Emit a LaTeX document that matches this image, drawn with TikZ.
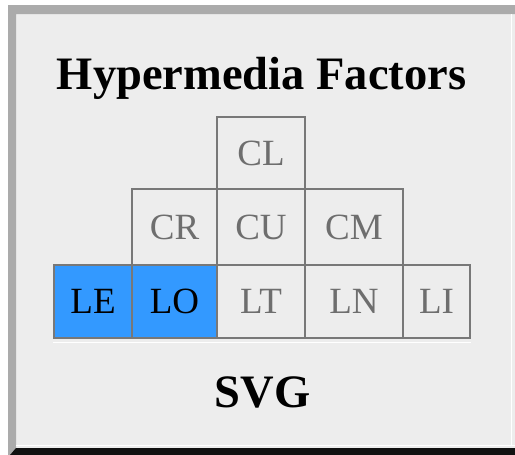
\documentclass[tikz,border=0pt]{standalone}
\usepackage{fontspec}
\setmainfont{Liberation Serif}
\definecolor{panelF}{HTML}{EDEDED}
\definecolor{panelEdge}{HTML}{ABABAB}
\definecolor{panelDark}{HTML}{111111}
\definecolor{cellS}{HTML}{787878}
\definecolor{cellT}{HTML}{6E6E6E}
\definecolor{hiF}{HTML}{3399FF}
\tikzset{
  cell/.style={draw=cellS, line width=2pt, fill=panelF, text=cellT,
    inner sep=0pt, outer sep=0pt, font=\fontsize{37}{40}\selectfont},
  hicell/.style={cell, fill=hiF, text=black},
  toprow/.style={minimum height=72pt},
  midrow/.style={minimum height=76pt},
  botrow/.style={minimum height=73pt},
  heading/.style={font=\fontsize{46.5}{50}\selectfont\bfseries, anchor=base,
    inner sep=0pt},
}

\begin{document}
\begin{tikzpicture}[x=1pt, y=-1pt]
  \useasboundingbox (0,0) rectangle (515,455);

  % ---- Panel ----------------------------------------------------------------
  \fill[white] (0,0) rectangle (515,455);
  \fill[panelF] (8,5) rectangle (515,448);
  \fill[panelEdge] (8,5) -- (515,5) -- (515,14) -- (16,14) -- (16,455) -- (8,455) -- cycle;
  \fill[panelDark] (16,448) -- (515,448) -- (515,455) -- (10,455) -- cycle;
  \draw[white, line width=1.2pt] (16,445.5) -- (515,445.5);
  \draw[white, line width=1pt] (511.5,14) -- (511.5,445);

  \node[heading] (title) at (261.5,89) {Hypermedia Factors};

  % ---- Factor grid ------------------------------------------------------------
  \node[cell, toprow, minimum width=88pt] (cl) at (261,153) {CL};

  \node[cell, midrow, minimum width=85pt] (cr) at (174.5,227) {CR};
  \node[cell, midrow, minimum width=88pt] (cu) at (261,227)   {CU};
  \node[cell, midrow, minimum width=98pt] (cm) at (354,227)   {CM};

  \node[hicell, botrow, minimum width=78pt] (le) at (93,301.5)    {LE};
  \node[hicell, botrow, minimum width=85pt] (lo) at (174.5,301.5) {LO};
  \node[cell,   botrow, minimum width=88pt] (lt) at (261,301.5)   {LT};
  \node[cell,   botrow, minimum width=98pt] (ln) at (354,301.5)   {LN};
  \node[cell,   botrow, minimum width=67pt] (li) at (436.5,301.5) {LI};

  % faint rule under the grid
  \draw[white, line width=1pt] (53,342) -- (471,342);

  \node[heading] (svg) at (262.5,407) {SVG};

\end{tikzpicture}
\end{document}
